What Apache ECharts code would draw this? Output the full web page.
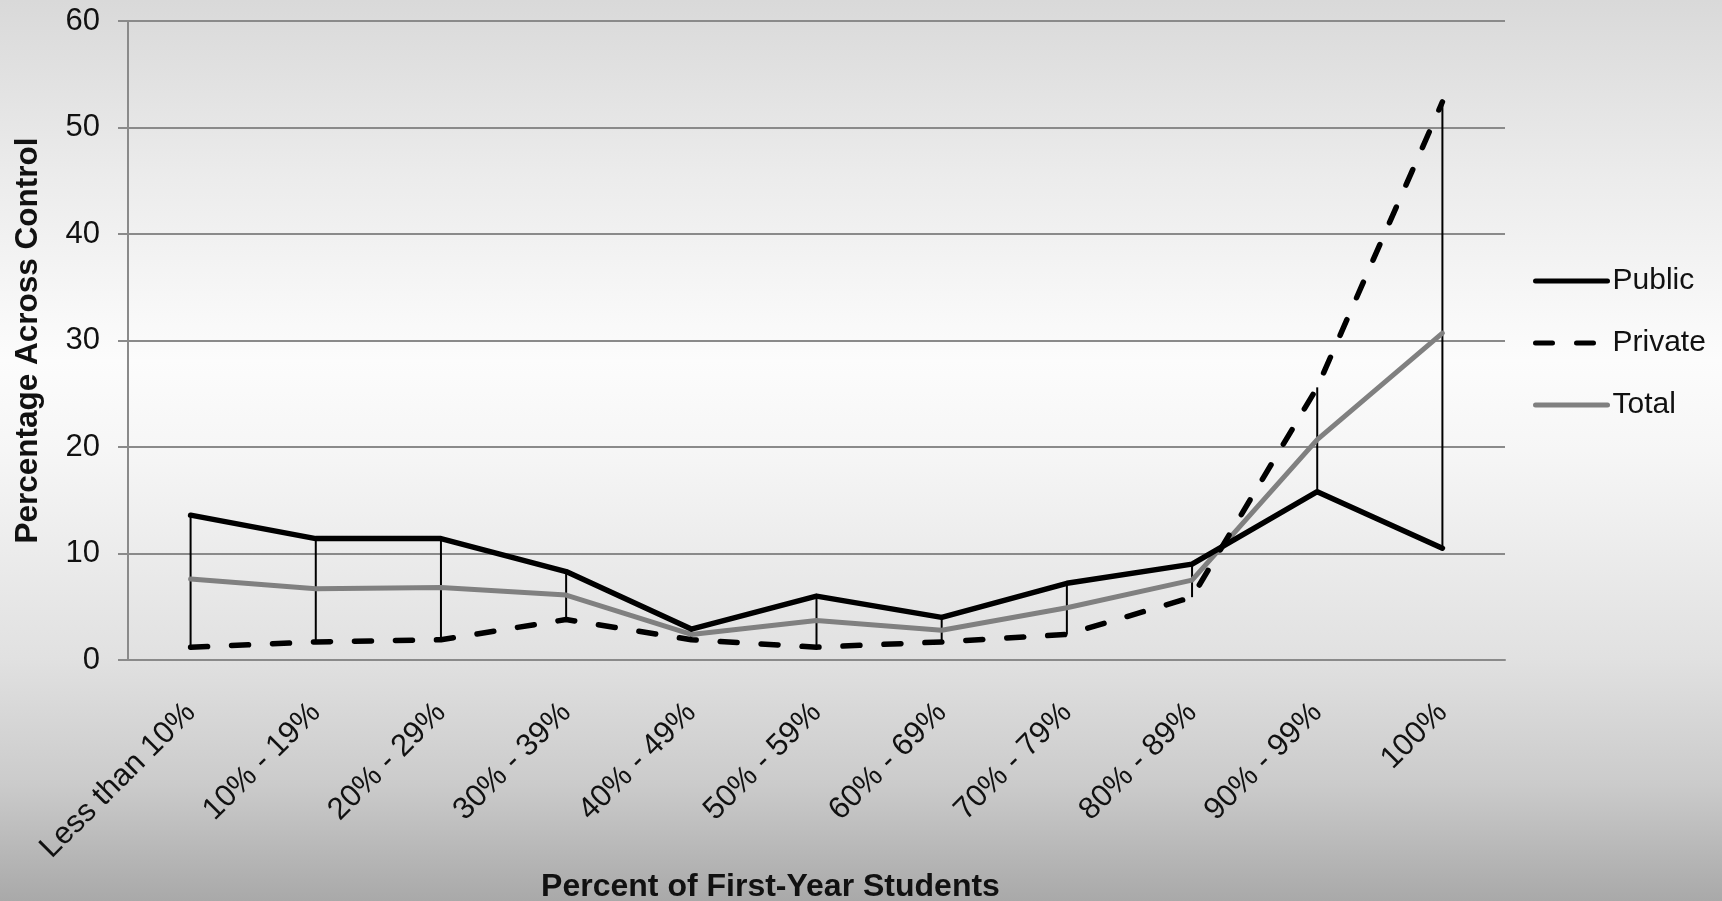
<!DOCTYPE html>
<html>
<head>
<meta charset="utf-8">
<script src="https://cdn.jsdelivr.net/npm/echarts@6/dist/echarts.min.js"></script>
<style>
  html, body { margin: 0; padding: 0; }
  #chart { width: 1722px; height: 901px; }
</style>
</head>
<body>
<div id="chart"></div>
<script>
// Share of institutions by percent of first-year students, split by control
const categories = ['Less than 10%', '10% - 19%', '20% - 29%', '30% - 39%', '40% - 49%',
  '50% - 59%', '60% - 69%', '70% - 79%', '80% - 89%', '90% - 99%', '100%'];
const publicValues  = [13.6, 11.4, 11.4, 8.3, 2.9, 6.0, 4.0, 7.2, 9.0, 15.8, 10.5];
const privateValues = [1.2, 1.7, 1.9, 3.8, 1.9, 1.2, 1.7, 2.4, 5.9, 25.6, 52.4];
const totalValues   = [7.6, 6.7, 6.8, 6.1, 2.4, 3.7, 2.8, 4.9, 7.5, 20.7, 30.7];
const yTicks = [0, 10, 20, 30, 40, 50, 60];

// High-low connector for each category: from the highest to the lowest series value
const hiLo = categories.map((c, i) => {
  const vals = [publicValues[i], privateValues[i], totalValues[i]];
  return [i, Math.max(...vals), Math.min(...vals)];
});

const FONT = "'Liberation Sans', Arial, sans-serif";
const chart = echarts.init(document.getElementById('chart'), null, { renderer: 'canvas' });

chart.setOption({
  animation: false,
  backgroundColor: {
    type: 'linear', x: 0, y: 0, x2: 0, y2: 1,
    colorStops: [
      { offset: 0.00, color: '#d9d9d9' },
      { offset: 0.20, color: '#ececec' },
      { offset: 0.40, color: '#fcfcfc' },
      { offset: 0.50, color: '#f6f6f6' },
      { offset: 0.73, color: '#e1e1e1' },
      { offset: 0.87, color: '#cbcbcb' },
      { offset: 1.00, color: '#a9a9a9' }
    ]
  },
  grid: { left: 128, right: 217, top: 21, bottom: 241, containLabel: false, outerBoundsMode: 'none' },
  legend: {
    orient: 'vertical',
    left: 1528,
    top: 261,
    itemWidth: 72,
    itemHeight: 14,
    itemGap: 32,
    data: ['Public', 'Private', 'Total'],
    itemStyle: { opacity: 0 },
    lineStyle: { width: 5, cap: 'round' },
    textStyle: { fontFamily: FONT, fontSize: 30, color: '#111' }
  },
  xAxis: {
    type: 'category',
    data: categories,
    boundaryGap: true,
    name: 'Percent of First-Year Students',
    nameLocation: 'middle',
    nameGap: 211,
    nameTextStyle: { fontFamily: FONT, fontSize: 32, fontWeight: 'bold', color: '#111', padding: [0, 92, 0, 0] },
    axisLine: { show: true, lineStyle: { color: '#8a8a8a', width: 2 } },
    axisTick: { show: false },
    axisLabel: { rotate: 45, margin: 48, interval: 0, fontFamily: FONT, fontSize: 31, color: '#111' },
    splitLine: { show: false }
  },
  yAxis: {
    type: 'value',
    min: yTicks[0],
    max: yTicks[yTicks.length - 1],
    interval: 10,
    name: 'Percentage Across Control',
    nameLocation: 'middle',
    nameGap: 84,
    nameTextStyle: { fontFamily: FONT, fontSize: 31.5, fontWeight: 'bold', color: '#111' },
    axisLine: { show: true, lineStyle: { color: '#8a8a8a', width: 2 } },
    axisTick: { show: true, inside: false, length: 10, lineStyle: { color: '#8a8a8a', width: 2 } },
    axisLabel: { margin: 28, fontFamily: FONT, fontSize: 31, color: '#111' },
    splitLine: { show: true, lineStyle: { color: '#8a8a8a', width: 2 } }
  },
  series: [
    {
      name: 'HighLow',
      type: 'custom',
      data: hiLo,
      z: 1,
      silent: true,
      renderItem: function (params, api) {
        const top = api.coord([api.value(0), api.value(1)]);
        const bottom = api.coord([api.value(0), api.value(2)]);
        return {
          type: 'line',
          shape: { x1: top[0], y1: top[1], x2: bottom[0], y2: bottom[1] },
          style: { stroke: '#000', lineWidth: 2 }
        };
      }
    },
    {
      name: 'Total',
      type: 'line',
      data: totalValues,
      symbol: 'none',
      z: 2,
      itemStyle: { color: '#808080' },
      lineStyle: { color: '#808080', width: 5, cap: 'round', join: 'round' }
    },
    {
      name: 'Public',
      type: 'line',
      data: publicValues,
      symbol: 'none',
      z: 3,
      itemStyle: { color: '#000' },
      lineStyle: { color: '#000', width: 5.5, cap: 'round', join: 'round' }
    },
    {
      name: 'Private',
      type: 'line',
      data: privateValues,
      symbol: 'none',
      z: 4,
      itemStyle: { color: '#000' },
      lineStyle: { color: '#000', width: 5.5, type: [17, 24], cap: 'round', join: 'round' }
    }
  ]
});
</script>
</body>
</html>
